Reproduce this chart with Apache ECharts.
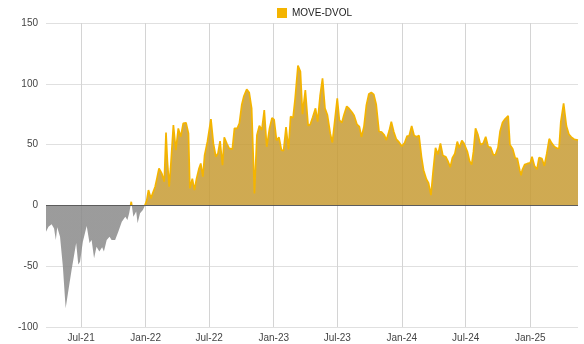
<!DOCTYPE html>
<html><head><meta charset="utf-8">
<script src="https://cdn.jsdelivr.net/npm/echarts@6/dist/echarts.min.js"></script>
<style>html,body{margin:0;padding:0;background:#fff}#c{width:584px;height:344px}</style>
</head><body><div id="c"></div>
<script>
const seriesName = 'MOVE-DVOL';
const dates = [
'2021-03-23','2021-03-30','2021-04-08','2021-04-15','2021-04-20','2021-04-24','2021-05-02','2021-05-10','2021-05-18','2021-05-26',
'2021-06-04','2021-06-12','2021-06-17','2021-06-23','2021-06-28','2021-07-06','2021-07-17','2021-07-25','2021-07-31','2021-08-07',
'2021-08-14','2021-08-22','2021-08-30','2021-09-04','2021-09-12','2021-09-20','2021-09-26','2021-10-06','2021-10-15','2021-10-25',
'2021-10-29','2021-11-04','2021-11-10','2021-11-15','2021-11-21','2021-11-27','2021-12-05','2021-12-09','2021-12-16','2021-12-24',
'2021-12-30',
'2022-01-04','2022-01-09','2022-01-16','2022-01-21','2022-01-28','2022-02-02','2022-02-08','2022-02-16','2022-02-23','2022-02-28',
'2022-03-04','2022-03-09','2022-03-13','2022-03-21','2022-03-28','2022-04-04','2022-04-11','2022-04-18','2022-04-26','2022-05-03',
'2022-05-07','2022-05-14','2022-05-20','2022-05-26','2022-06-02','2022-06-07','2022-06-13','2022-06-18','2022-06-26','2022-07-06',
'2022-07-13','2022-07-20','2022-07-26','2022-08-01','2022-08-08','2022-08-13','2022-08-20','2022-08-27','2022-09-05','2022-09-11',
'2022-09-19','2022-09-25','2022-10-02','2022-10-08','2022-10-16','2022-10-23','2022-10-30','2022-11-07','2022-11-14','2022-11-21',
'2022-11-28','2022-12-05','2022-12-12','2022-12-20','2022-12-27',
'2023-01-02','2023-01-09','2023-01-16','2023-01-23','2023-01-29','2023-02-05','2023-02-12','2023-02-18','2023-02-25','2023-03-03',
'2023-03-11','2023-03-18','2023-03-24','2023-04-01','2023-04-09','2023-04-15','2023-04-22','2023-04-30','2023-05-06','2023-05-13',
'2023-05-20','2023-05-27','2023-06-03','2023-06-11','2023-06-17','2023-06-24','2023-07-01','2023-07-07','2023-07-14','2023-07-20',
'2023-07-28','2023-08-04','2023-08-12','2023-08-18','2023-08-26','2023-09-02','2023-09-08','2023-09-15','2023-09-22','2023-09-29',
'2023-10-06','2023-10-13','2023-10-20','2023-10-28','2023-11-05','2023-11-12','2023-11-18','2023-11-26','2023-12-02','2023-12-09',
'2023-12-16','2023-12-24',
'2024-01-01','2024-01-09','2024-01-16','2024-01-22','2024-01-29','2024-02-05','2024-02-12','2024-02-19','2024-02-26','2024-03-03',
'2024-03-11','2024-03-17','2024-03-24','2024-03-30','2024-04-06','2024-04-13','2024-04-20','2024-04-27','2024-05-05','2024-05-11',
'2024-05-18','2024-05-24','2024-05-31','2024-06-07','2024-06-13','2024-06-20','2024-06-26','2024-07-06','2024-07-12','2024-07-18',
'2024-07-23','2024-07-29','2024-08-05','2024-08-12','2024-08-20','2024-08-27','2024-09-03','2024-09-10','2024-09-18','2024-09-24',
'2024-10-01','2024-10-07','2024-10-14','2024-10-21','2024-10-30','2024-11-04','2024-11-12','2024-11-19','2024-11-25','2024-12-02',
'2024-12-06','2024-12-09','2024-12-16','2024-12-23',
'2025-01-01','2025-01-06','2025-01-13','2025-01-20','2025-01-26','2025-02-03','2025-02-10','2025-02-17','2025-02-24','2025-03-03',
'2025-03-11','2025-03-18','2025-03-24','2025-03-29','2025-04-06','2025-04-14','2025-04-21','2025-04-28','2025-05-06','2025-05-17'
];
const values = [
-21.6,-17.5,-15.6,-18.9,-28.5,-18,-25.7,-50,-84.6,-69.6,
-53,-39.4,-31,-48.5,-46.3,-29.8,-17,-31,-28.5,-43.5,
-34,-38,-34.5,-38,-28.5,-25.7,-28.5,-28.5,-21.6,-13.4,
-14.7,-9.3,-12,-6.5,3,-9.3,-5,-14.7,-6.5,-3.8,
0,
4,12.6,5.8,9.9,15.4,22,30.4,26.3,19.5,60,
36,15.4,30.4,66,45.5,63.3,56.5,67.4,68,59.2,
14,22,12.6,22,30.4,34.5,23.6,41.4,52.4,71,
51,40,42.8,52.9,33,56,51,46.9,46.3,63.3,
63.3,67.4,83,90,95.4,92.9,79.8,9.9,57.8,65.5,
62,78.4,48.2,63.3,72,
70.5,53.5,56,45.5,45,64.5,46,73,72,88,
115,110,75,94.8,65.5,66.5,72.5,79.8,68.8,90,
104.5,79.8,74.3,59.2,51.6,70,88,70.2,68,74.3,
81.5,79.5,76.6,73.9,66.7,64.8,56.3,64.7,82.5,91.6,
92.8,91.3,83,60.8,60.2,57.8,53.7,61.3,68.8,60.6,
54.5,52,
48.6,51.5,57,57.3,65.3,57.5,56.5,57.4,40,29,
21.5,18.5,8.5,27.7,47.3,42,51,41,40,36.6,
31.5,39,42.5,52.5,47.2,53.3,51,44,36.5,33.5,
44,63.3,58,50,51,56.5,48.2,47.7,41.5,41.8,
47.6,61,68.2,71,73.6,50,46.5,39,38.7,29,
24.7,29,33.5,34.3,
35,40,32.5,29.7,39.3,38.5,32.5,42.5,54.8,51.2,
48.2,47,46.9,68.7,84,65.3,58.5,56.2,54.4,53.7
];
const yMin = -100, yMax = 150, yStep = 50;
const monthNames = ['Jan','Feb','Mar','Apr','May','Jun','Jul','Aug','Sep','Oct','Nov','Dec'];

const data = dates.map((d, i) => [d, values[i]]);
const font = "'Liberation Sans', Arial, sans-serif";
const chart = echarts.init(document.getElementById('c'), null, {renderer: 'canvas'});
chart.setOption({
  animation: false,
  backgroundColor: '#ffffff',
  grid: {left: 46, right: 6, top: 23, bottom: 17, containLabel: false},
  legend: {
    data: [{name: seriesName, itemStyle: {color: '#f4b400'}}],
    left: 272, top: 3, icon: 'rect', itemWidth: 10, itemHeight: 10, itemGap: 6,
    textStyle: {color: '#222', fontSize: 10, fontFamily: font}
  },
  xAxis: {
    type: 'time',
    min: dates[0], max: dates[dates.length - 1],
    splitNumber: 8,
    axisLine: {show: false}, axisTick: {show: false},
    splitLine: {show: true, showMinLine: false, showMaxLine: false, lineStyle: {color: '#d4d4d4', width: 1}},
    axisLabel: {
      color: '#444', fontSize: 10, fontFamily: font, margin: 6,
      formatter: function (v) {
        const d = new Date(v);
        if (d.getDate() !== 1 || (d.getMonth() !== 0 && d.getMonth() !== 6)) return '';
        return monthNames[d.getMonth()] + '-' + String(d.getFullYear()).slice(2);
      }
    }
  },
  yAxis: {
    type: 'value', min: yMin, max: yMax, interval: yStep,
    axisLine: {show: false}, axisTick: {show: false},
    splitLine: {lineStyle: {color: '#e0e0e0', width: 1}},
    axisLabel: {color: '#444', fontSize: 10, fontFamily: font, margin: 8}
  },
  visualMap: [
    {type: 'piecewise', show: false, seriesIndex: 0, dimension: 1,
     pieces: [{gt: 0, lte: 1000, color: '#c79b33'}, {gte: -1000, lte: 0, color: '#8a8a8a'}],
     outOfRange: {color: '#8a8a8a'}},
    {type: 'piecewise', show: false, seriesIndex: 1, dimension: 1,
     pieces: [{gt: 0, lte: 1000, color: '#f4b400'}, {gte: -1000, lte: 0, color: 'rgba(244,180,0,0)'}],
     outOfRange: {color: 'rgba(244,180,0,0)'}}
  ],
  series: [
    {
      name: 'fill', type: 'line', data: data, showSymbol: false, symbol: 'none',
      lineStyle: {width: 0}, areaStyle: {opacity: 0.85}, silent: true, z: 1
    },
    {
      name: seriesName, type: 'line', data: data, showSymbol: false, symbol: 'none',
      itemStyle: {color: '#f4b400'}, lineStyle: {width: 1.7}, silent: true, z: 2,
      markLine: {
        silent: true, symbol: 'none', label: {show: false},
        lineStyle: {color: 'rgba(60,60,60,0.75)', width: 1, type: 'solid'},
        data: [{yAxis: 0}]
      }
    }
  ]
});
</script>
</body></html>
